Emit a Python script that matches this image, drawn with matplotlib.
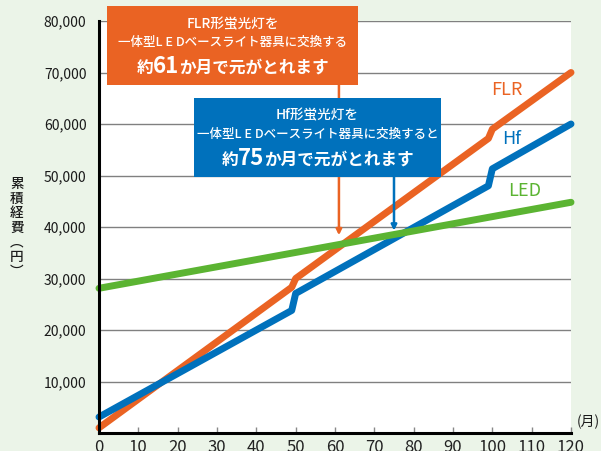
import matplotlib
matplotlib.use('Agg')
import matplotlib.pyplot as plt
from matplotlib.patches import Rectangle

plt.rcParams['font.family'] = ['Noto Sans CJK JP', 'DejaVu Sans']

# cumulative cost (yen) by month; steps at 50 / 100 months are lamp replacements
months_flr = [0, 49, 50, 99, 100, 120]
cost_flr = [1000, 28300, 30000, 57200, 59000, 70000]
months_hf = [0, 49, 50, 99, 100, 120]
cost_hf = [3100, 23800, 27100, 48000, 51300, 60000]
months_led = [0, 120]
cost_led = [28100, 44800]

payback_flr = 61
payback_hf = 75
arrow_tip_flr = 38400
arrow_tip_hf = 39300

xticks = list(range(0, 121, 10))
yticks = list(range(10000, 80001, 10000))
ytick_labels = ['{:,}'.format(v) for v in yticks]

ORANGE = '#ea6323'
BLUE = '#0071bc'
GREEN = '#5bb432'
BG = '#ebf4e8'

W, H = 601, 451
fig = plt.figure(figsize=(W / 100, H / 100), dpi=100, facecolor=BG)
ax = fig.add_axes([99 / W, 1 - 433 / H, 472 / W, 412 / H])
ax.set_facecolor('white')

ax.plot(months_flr, cost_flr, color=ORANGE, lw=5, solid_capstyle='round',
        solid_joinstyle='round', clip_on=False, zorder=3)
ax.plot(months_hf, cost_hf, color=BLUE, lw=5, solid_capstyle='round',
        solid_joinstyle='round', clip_on=False, zorder=4)
ax.plot(months_led, cost_led, color=GREEN, lw=5, solid_capstyle='round',
        solid_joinstyle='round', clip_on=False, zorder=5)

ax.set_xlim(0, 120)
ax.set_ylim(0, 80000)
ax.set_xticks(xticks)
ax.set_yticks(yticks)
ax.set_yticklabels(ytick_labels)
ax.tick_params(axis='x', direction='in', length=4, width=1, color='#888888',
               labelsize=12, pad=4, labelcolor='#222222')
ax.tick_params(axis='y', length=0, labelsize=10, pad=9, labelcolor='#1a1a1a')
ax.yaxis.grid(True, color='#808080', lw=1)
ax.set_axisbelow(True)
for s in ['top', 'right']:
    ax.spines[s].set_visible(False)
for s in ['left', 'bottom']:
    ax.spines[s].set_linewidth(2.2)
    ax.spines[s].set_color('black')
    ax.spines[s].set_zorder(6)

# series names
ax.text(507 / W, 1 - 90 / H, 'FLR', transform=fig.transFigure, color=ORANGE,
        fontsize=13, ha='center', va='center')
ax.text(512 / W, 1 - 139 / H, 'Hf', transform=fig.transFigure, color=BLUE,
        fontsize=13, ha='center', va='center')
ax.text(525 / W, 1 - 191 / H, 'LED', transform=fig.transFigure, color=GREEN,
        fontsize=13, ha='center', va='center')

# axis titles
fig.text(17 / W, 1 - 228 / H, '累\n積\n経\n費\n︵\n円\n︶', fontsize=9.8,
         ha='center', va='center', linespacing=1.05, color='#1a1a1a',
         fontweight='medium')
fig.text(588 / W, 1 - 422 / H, '(月)', fontsize=10, ha='center', va='center',
         color='#1a1a1a')


def fig_px(x, y):
    return x / W, 1 - y / H


def callout(box, color, line1, line2, big, mid, tail, y1, y2, yb):
    x0, y0, x1, y1b = box
    fig.patches.append(Rectangle(fig_px(x0, y1b), (x1 - x0) / W, (y1b - y0) / H,
                                 transform=fig.transFigure, facecolor=color,
                                 edgecolor='none', zorder=10))
    cx = (x0 + x1) / 2
    fig.text(cx / W, 1 - y1 / H, line1, color='white', fontsize=9.8,
             ha='center', va='center', zorder=11, fontweight='medium')
    fig.text(cx / W, 1 - y2 / H, line2, color='white', fontsize=9.0,
             ha='center', va='center', zorder=11, fontweight='medium')
    parts = [(big, 12), (mid, 16), (tail, 12)]
    texts = [fig.text(0, 1 - yb / H, s, color='white', fontsize=fs,
                      fontweight='bold', ha='left', va='baseline', zorder=11)
             for s, fs in parts]
    r = fig.canvas.get_renderer()
    widths = [t.get_window_extent(r).width for t in texts]
    x = cx - sum(widths) / 2
    for t, w in zip(texts, widths):
        t.set_x(x / W)
        x += w


callout((107, 6, 358, 85), ORANGE, 'FLR形蛍光灯を',
        '一体型L E Dベースライト器具に交換する', '約', str(payback_flr),
        'か月で元がとれます', 24, 42.5, 73)
callout((194, 98, 441, 177), BLUE, 'Hf形蛍光灯を',
        '一体型L E Dベースライト器具に交換すると', '約', str(payback_hf),
        'か月で元がとれます', 115, 134, 165)

# pointers from the boxes down to the crossing points
ax.annotate('', xy=(payback_flr, arrow_tip_flr), xycoords='data',
            xytext=(payback_flr, 80000 * (433 - 85) / 412), textcoords='data',
            arrowprops=dict(arrowstyle='-|>', color=ORANGE, lw=1.8,
                            mutation_scale=8, shrinkA=0, shrinkB=0),
            zorder=7)
ax.annotate('', xy=(payback_hf, arrow_tip_hf), xycoords='data',
            xytext=(payback_hf, 80000 * (433 - 177) / 412), textcoords='data',
            arrowprops=dict(arrowstyle='-|>', color=BLUE, lw=1.8,
                            mutation_scale=8, shrinkA=0, shrinkB=0),
            zorder=7)

fig.savefig('out.png', dpi=100, facecolor=BG)
